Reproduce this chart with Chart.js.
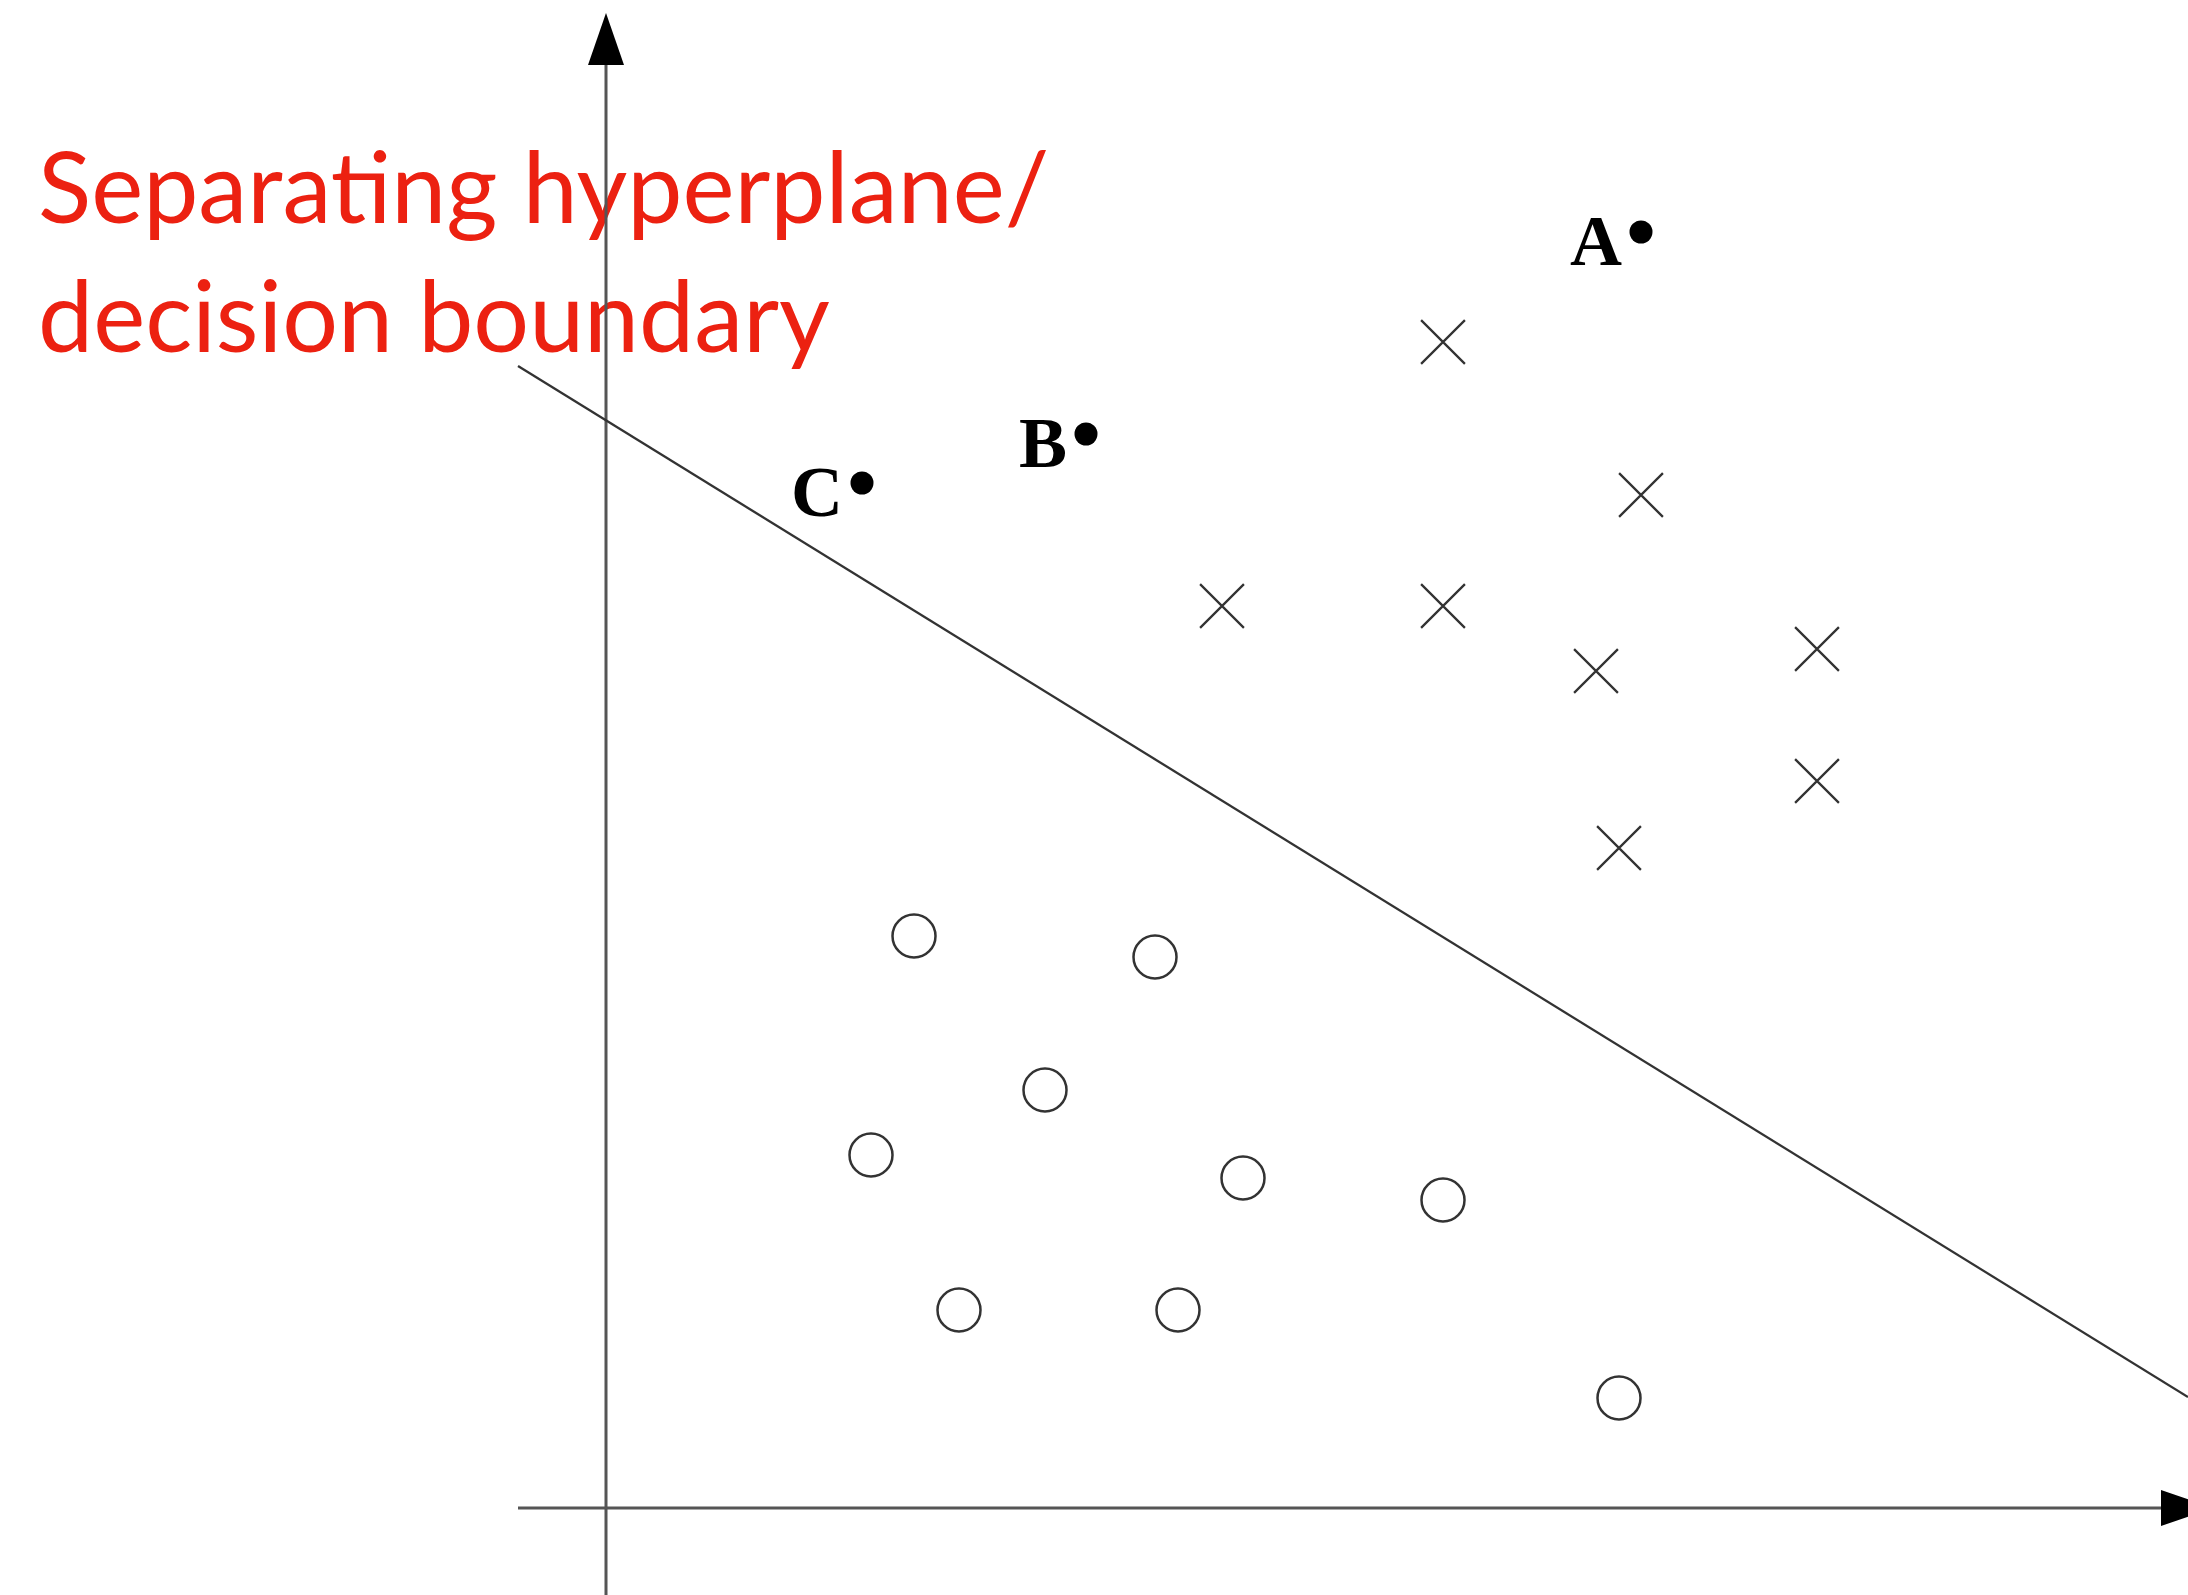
<!DOCTYPE html>
<html>
<head>
<meta charset="utf-8">
<script src="https://cdn.jsdelivr.net/npm/chart.js@4.4.1/dist/chart.umd.min.js"></script>
<style>
  html, body { margin: 0; padding: 0; background: #fff; }
  #wrap { width: 2188px; height: 1595px; }
</style>
</head>
<body>
<div id="wrap"><canvas id="svmChart" width="2188" height="1595"></canvas></div>
<script>
// class 1 (crosses)
const crossX = [8.37, 10.35, 6.16, 8.37, 9.90, 12.11, 12.11, 10.13];
const crossY = [11.66, 10.13, 9.02, 9.02, 8.37, 8.59, 7.27, 6.60];
// class 2 (hollow circles)
const circleX = [3.08, 5.49, 4.39, 2.65, 6.37, 8.37, 3.53, 5.72, 10.13];
const circleY = [5.72, 5.51, 4.18, 3.53, 3.30, 3.08, 1.98, 1.98, 1.10];
// labelled query points
const pointLabels = ["A", "B", "C"];
const pointX = [10.35, 4.80, 2.56];
const pointY = [12.76, 10.74, 10.25];
// separating line
const boundaryX = [-0.88, 15.82];
const boundaryY = [11.42, 1.11];
// axes (start, arrow base) and arrow tips
const axisX = [-0.88, 15.55];
const axisY = [-0.87, 14.43];
const tipX = 16.07;
const tipY = 14.95;
const titleLines = ["Separating hyperplane/", "decision boundary"];

const toXY = (xs, ys) => xs.map((v, i) => ({ x: v, y: ys[i] }));

const overlay = {
  id: "overlay",
  beforeDatasetsDraw(chart) {
    const ctx = chart.ctx;
    ctx.save();
    ctx.fillStyle = "#ec2111";
    ctx.font = "100px Lato";
    const w = ctx.measureText(titleLines[0]).width;
    const size = 100 * 1011 / w;
    ctx.font = size.toFixed(1) + "px Lato";
    ctx.textBaseline = "alphabetic";
    ctx.fillText(titleLines[0], 38, 223);
    ctx.fillText(titleLines[1], 38, 352);
    ctx.restore();
  },
  afterDatasetsDraw(chart) {
    const { ctx, scales: { x, y } } = chart;
    const x0 = x.getPixelForValue(0);
    const y0 = y.getPixelForValue(0);
    ctx.save();
    ctx.fillStyle = "#000";
    // up arrow
    const top = y.getPixelForValue(tipY), topBase = y.getPixelForValue(axisY[1]);
    ctx.beginPath();
    ctx.moveTo(x0, top);
    ctx.lineTo(x0 - 18, topBase);
    ctx.lineTo(x0 + 18, topBase);
    ctx.closePath();
    ctx.fill();
    // right arrow
    const right = x.getPixelForValue(tipX), rightBase = x.getPixelForValue(axisX[1]);
    ctx.beginPath();
    ctx.moveTo(right, y0);
    ctx.lineTo(rightBase, y0 - 18);
    ctx.lineTo(rightBase, y0 + 18);
    ctx.closePath();
    ctx.fill();
    // point names
    ctx.font = "bold 72px 'Liberation Serif'";
    ctx.textAlign = "right";
    ctx.textBaseline = "alphabetic";
    pointLabels.forEach((t, i) => {
      ctx.fillText(t, x.getPixelForValue(pointX[i]) - 19, y.getPixelForValue(pointY[i]) + 33);
    });
    ctx.restore();
  }
};

new Chart(document.getElementById("svmChart"), {
  type: "scatter",
  data: {
    datasets: [
      {
        label: "A, B, C",
        data: toXY(pointX, pointY),
        pointStyle: "circle",
        pointRadius: 11.5,
        backgroundColor: "#000",
        borderWidth: 0
      },
      {
        label: "class x",
        data: toXY(crossX, crossY),
        pointStyle: "crossRot",
        pointRadius: 31,
        borderColor: "#333",
        borderWidth: 2.3
      },
      {
        label: "class o",
        data: toXY(circleX, circleY),
        pointStyle: "circle",
        pointRadius: 21.5,
        backgroundColor: "rgba(0,0,0,0)",
        borderColor: "#333",
        borderWidth: 2.5
      },
      {
        label: "boundary",
        data: toXY(boundaryX, boundaryY),
        showLine: true,
        pointRadius: 0,
        borderColor: "#333",
        borderWidth: 2.3
      },
      {
        label: "x axis",
        data: toXY(axisX, [0, 0]),
        showLine: true,
        pointRadius: 0,
        borderColor: "#555",
        borderWidth: 3
      },
      {
        label: "y axis",
        data: toXY([0, 0], axisY),
        showLine: true,
        pointRadius: 0,
        borderColor: "#555",
        borderWidth: 3
      }
    ]
  },
  options: {
    responsive: false,
    devicePixelRatio: 1,
    animation: false,
    events: [],
    layout: { padding: 0, autoPadding: false },
    plugins: {
      legend: { display: false },
      tooltip: { enabled: false }
    },
    scales: {
      x: { type: "linear", min: -6.06, max: 15.82, display: false },
      y: { type: "linear", min: -0.87, max: 15.08, display: false }
    }
  },
  plugins: [overlay]
});
</script>
</body>
</html>
